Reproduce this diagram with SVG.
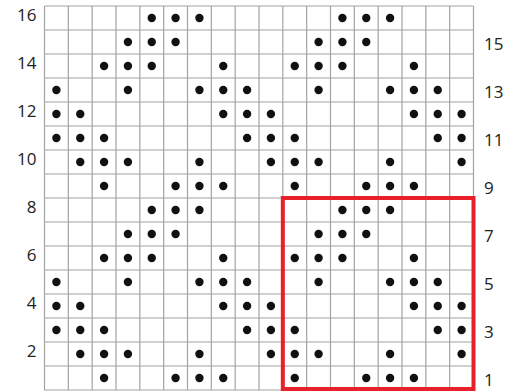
<svg xmlns="http://www.w3.org/2000/svg" xmlns:xlink="http://www.w3.org/1999/xlink" width="516" height="391" viewBox="0 0 516 391">
<style>
.grid{fill:none;stroke:#a3a3a3;stroke-width:1.2}
.dot{fill:#111}
.lbl{font-family:"Open Sans","Liberation Sans",sans-serif;font-size:17px;fill:#222}
.l{text-anchor:end}
.box{fill:none;stroke:#e8202a;stroke-width:4}
</style>
<defs>
<g id="rep">
<g class="dot">
<circle cx="151.75" cy="210" r="4.2"/><circle cx="175.58" cy="210" r="4.2"/><circle cx="199.42" cy="210" r="4.2"/><circle cx="342.42" cy="210" r="4.2"/><circle cx="366.25" cy="210" r="4.2"/><circle cx="390.08" cy="210" r="4.2"/>
<circle cx="127.92" cy="234" r="4.2"/><circle cx="151.75" cy="234" r="4.2"/><circle cx="175.58" cy="234" r="4.2"/><circle cx="318.58" cy="234" r="4.2"/><circle cx="342.42" cy="234" r="4.2"/><circle cx="366.25" cy="234" r="4.2"/>
<circle cx="104.08" cy="258" r="4.2"/><circle cx="127.92" cy="258" r="4.2"/><circle cx="151.75" cy="258" r="4.2"/><circle cx="223.25" cy="258" r="4.2"/><circle cx="294.75" cy="258" r="4.2"/><circle cx="318.58" cy="258" r="4.2"/><circle cx="342.42" cy="258" r="4.2"/><circle cx="413.92" cy="258" r="4.2"/>
<circle cx="56.42" cy="282" r="4.2"/><circle cx="127.92" cy="282" r="4.2"/><circle cx="199.42" cy="282" r="4.2"/><circle cx="223.25" cy="282" r="4.2"/><circle cx="247.08" cy="282" r="4.2"/><circle cx="318.58" cy="282" r="4.2"/><circle cx="390.08" cy="282" r="4.2"/><circle cx="413.92" cy="282" r="4.2"/><circle cx="437.75" cy="282" r="4.2"/>
<circle cx="56.42" cy="306" r="4.2"/><circle cx="80.25" cy="306" r="4.2"/><circle cx="223.25" cy="306" r="4.2"/><circle cx="247.08" cy="306" r="4.2"/><circle cx="270.92" cy="306" r="4.2"/><circle cx="413.92" cy="306" r="4.2"/><circle cx="437.75" cy="306" r="4.2"/><circle cx="461.58" cy="306" r="4.2"/>
<circle cx="56.42" cy="330" r="4.2"/><circle cx="80.25" cy="330" r="4.2"/><circle cx="104.08" cy="330" r="4.2"/><circle cx="247.08" cy="330" r="4.2"/><circle cx="270.92" cy="330" r="4.2"/><circle cx="294.75" cy="330" r="4.2"/><circle cx="437.75" cy="330" r="4.2"/><circle cx="461.58" cy="330" r="4.2"/>
<circle cx="80.25" cy="354" r="4.2"/><circle cx="104.08" cy="354" r="4.2"/><circle cx="127.92" cy="354" r="4.2"/><circle cx="199.42" cy="354" r="4.2"/><circle cx="270.92" cy="354" r="4.2"/><circle cx="294.75" cy="354" r="4.2"/><circle cx="318.58" cy="354" r="4.2"/><circle cx="390.08" cy="354" r="4.2"/><circle cx="461.58" cy="354" r="4.2"/>
<circle cx="104.08" cy="378" r="4.2"/><circle cx="175.58" cy="378" r="4.2"/><circle cx="199.42" cy="378" r="4.2"/><circle cx="223.25" cy="378" r="4.2"/><circle cx="294.75" cy="378" r="4.2"/><circle cx="366.25" cy="378" r="4.2"/><circle cx="390.08" cy="378" r="4.2"/><circle cx="413.92" cy="378" r="4.2"/>
</g>
</g>
</defs>
<rect width="516" height="391" fill="#fff"/>
<g id="grid">
<path class="grid" d="M44.5 6V390M68.33 6V390M92.17 6V390M116 6V390M139.83 6V390M163.67 6V390M187.5 6V390M211.33 6V390M235.17 6V390M259 6V390M282.83 6V390M306.67 6V390M330.5 6V390M354.33 6V390M378.17 6V390M402 6V390M425.83 6V390M449.67 6V390M473.5 6V390
M44.5 6H473.5M44.5 30H473.5M44.5 54H473.5M44.5 78H473.5M44.5 102H473.5M44.5 126H473.5M44.5 150H473.5M44.5 174H473.5M44.5 198H473.5M44.5 222H473.5M44.5 246H473.5M44.5 270H473.5M44.5 294H473.5M44.5 318H473.5M44.5 342H473.5M44.5 366H473.5M44.5 390H473.5"/>
</g>
<g id="dots">
<use xlink:href="#rep" href="#rep"/>
<use xlink:href="#rep" href="#rep" transform="translate(0,-192)"/>
</g>
<g id="labels-left" class="lbl l">
<text x="36.5" y="21">16</text>
<text x="36.5" y="69">14</text>
<text x="36.5" y="117">12</text>
<text x="36.5" y="165">10</text>
<text x="36.5" y="213">8</text>
<text x="36.5" y="261">6</text>
<text x="36.5" y="309">4</text>
<text x="36.5" y="357">2</text>
</g>
<g id="labels-right" class="lbl">
<text x="484" y="49.5">15</text>
<text x="484" y="97.5">13</text>
<text x="484" y="145.5">11</text>
<text x="484" y="193.5">9</text>
<text x="484" y="241.5">7</text>
<text x="484" y="289.5">5</text>
<text x="484" y="337.5">3</text>
<text x="484" y="385.5">1</text>
</g>
<rect id="repeat-box" class="box" x="282.83" y="198" width="190.67" height="191"/>
</svg>
